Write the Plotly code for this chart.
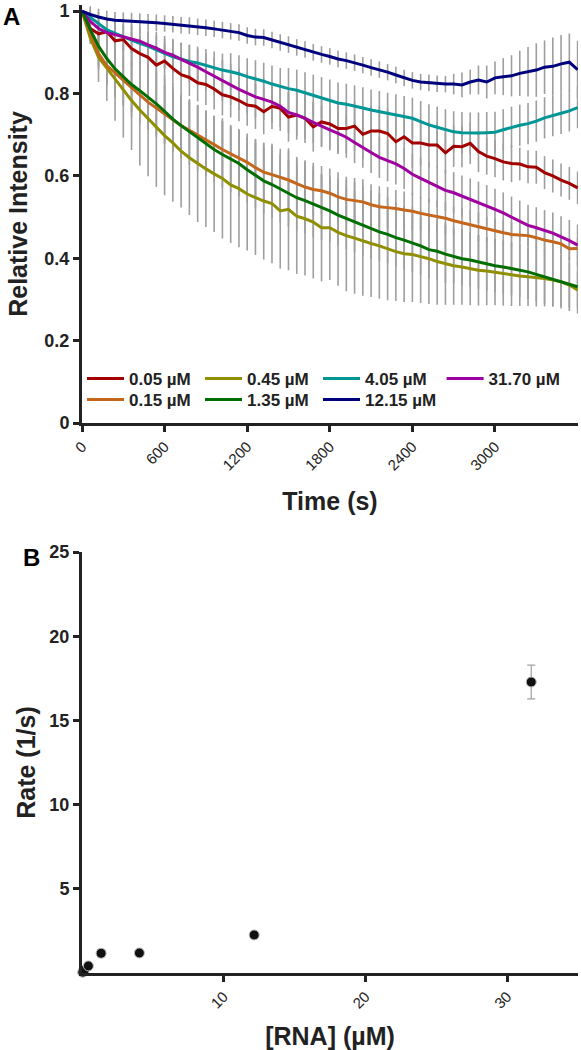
import plotly.graph_objects as go

# ---------------- Panel A data ----------------
time_s = [0, 60, 120, 180, 240, 300, 360, 420, 480, 540,
          600, 660, 720, 780, 840, 900, 960, 1020, 1080, 1140,
          1200, 1260, 1320, 1380, 1440, 1500, 1560, 1620, 1680, 1740,
          1800, 1860, 1920, 1980, 2040, 2100, 2160, 2220, 2280, 2340,
          2400, 2460, 2520, 2580, 2640, 2700, 2760, 2820, 2880, 2940,
          3000, 3060, 3120, 3180, 3240, 3300, 3360, 3420, 3480, 3540, 3600]

i_005 = [1.000, 0.958, 0.945, 0.950, 0.928, 0.931, 0.909, 0.897, 0.888, 0.869,
         0.879, 0.861, 0.846, 0.839, 0.826, 0.822, 0.811, 0.797, 0.792, 0.783,
         0.772, 0.769, 0.756, 0.769, 0.764, 0.743, 0.748, 0.740, 0.719, 0.731,
         0.726, 0.715, 0.715, 0.721, 0.701, 0.709, 0.709, 0.703, 0.683, 0.695,
         0.680, 0.680, 0.675, 0.675, 0.656, 0.672, 0.671, 0.679, 0.659, 0.648,
         0.642, 0.634, 0.630, 0.629, 0.622, 0.621, 0.608, 0.600, 0.590, 0.582, 0.571]
i_015 = [1.000, 0.945, 0.897, 0.868, 0.850, 0.833, 0.815, 0.797, 0.779, 0.764,
         0.750, 0.736, 0.722, 0.711, 0.699, 0.688, 0.676, 0.664, 0.654, 0.644,
         0.633, 0.620, 0.609, 0.603, 0.596, 0.590, 0.581, 0.573, 0.567, 0.564,
         0.558, 0.549, 0.543, 0.540, 0.537, 0.530, 0.525, 0.523, 0.521, 0.517,
         0.514, 0.509, 0.505, 0.500, 0.497, 0.491, 0.486, 0.481, 0.476, 0.471,
         0.467, 0.462, 0.458, 0.457, 0.455, 0.450, 0.444, 0.440, 0.435, 0.423, 0.424]
i_045 = [1.000, 0.935, 0.888, 0.862, 0.834, 0.808, 0.783, 0.760, 0.739, 0.718,
         0.698, 0.680, 0.660, 0.644, 0.630, 0.617, 0.605, 0.594, 0.578, 0.569,
         0.556, 0.548, 0.539, 0.533, 0.515, 0.519, 0.502, 0.496, 0.488, 0.474,
         0.474, 0.463, 0.455, 0.449, 0.442, 0.436, 0.430, 0.423, 0.416, 0.411,
         0.409, 0.404, 0.399, 0.392, 0.387, 0.382, 0.379, 0.375, 0.371, 0.369,
         0.366, 0.363, 0.359, 0.357, 0.355, 0.353, 0.351, 0.347, 0.343, 0.335, 0.323]
i_135 = [1.000, 0.955, 0.915, 0.885, 0.860, 0.840, 0.822, 0.807, 0.792, 0.775,
         0.757, 0.738, 0.722, 0.707, 0.693, 0.679, 0.664, 0.652, 0.641, 0.630,
         0.615, 0.601, 0.588, 0.579, 0.568, 0.558, 0.547, 0.540, 0.532, 0.524,
         0.515, 0.505, 0.497, 0.489, 0.481, 0.473, 0.464, 0.458, 0.450, 0.444,
         0.437, 0.430, 0.421, 0.417, 0.410, 0.404, 0.399, 0.396, 0.391, 0.386,
         0.382, 0.379, 0.375, 0.371, 0.367, 0.361, 0.355, 0.350, 0.343, 0.337, 0.331]
i_405 = [1.000, 0.985, 0.968, 0.955, 0.946, 0.937, 0.930, 0.922, 0.915, 0.906,
         0.898, 0.889, 0.884, 0.878, 0.874, 0.868, 0.862, 0.857, 0.853, 0.848,
         0.841, 0.836, 0.830, 0.823, 0.817, 0.812, 0.808, 0.802, 0.796, 0.790,
         0.784, 0.777, 0.774, 0.770, 0.765, 0.760, 0.756, 0.752, 0.748, 0.744,
         0.740, 0.732, 0.724, 0.718, 0.712, 0.707, 0.705, 0.704, 0.704, 0.705,
         0.706, 0.712, 0.718, 0.723, 0.727, 0.733, 0.741, 0.746, 0.752, 0.758, 0.766]
i_1215 = [1.000, 0.992, 0.986, 0.981, 0.978, 0.977, 0.976, 0.975, 0.973, 0.972,
          0.970, 0.968, 0.966, 0.965, 0.962, 0.960, 0.957, 0.954, 0.951, 0.948,
          0.941, 0.937, 0.936, 0.930, 0.924, 0.919, 0.912, 0.907, 0.900, 0.895,
          0.890, 0.884, 0.880, 0.875, 0.869, 0.863, 0.858, 0.852, 0.845, 0.838,
          0.832, 0.828, 0.826, 0.824, 0.823, 0.823, 0.821, 0.828, 0.833, 0.828,
          0.838, 0.841, 0.843, 0.849, 0.853, 0.857, 0.864, 0.866, 0.872, 0.876, 0.858]
i_3170 = [1.000, 0.975, 0.958, 0.948, 0.943, 0.938, 0.933, 0.927, 0.918, 0.910,
          0.900, 0.893, 0.883, 0.874, 0.864, 0.853, 0.842, 0.832, 0.822, 0.810,
          0.801, 0.792, 0.786, 0.779, 0.769, 0.754, 0.748, 0.740, 0.730, 0.720,
          0.712, 0.703, 0.694, 0.681, 0.670, 0.657, 0.645, 0.637, 0.629, 0.618,
          0.604, 0.594, 0.584, 0.574, 0.565, 0.559, 0.551, 0.544, 0.536, 0.528,
          0.519, 0.510, 0.500, 0.490, 0.480, 0.474, 0.467, 0.461, 0.452, 0.443, 0.432]

# error (SD) estimates
e_005 = [0, 0.02, 0.03, 0.03, 0.03, 0.03, 0.04, 0.04, 0.04, 0.04,
         0.04, 0.04, 0.045, 0.045, 0.045, 0.05, 0.05, 0.05, 0.05, 0.05,
         0.05, 0.055, 0.055, 0.055, 0.055, 0.06, 0.06, 0.06, 0.06, 0.06,
         0.06, 0.06, 0.06, 0.06, 0.06, 0.06, 0.06, 0.06, 0.06, 0.06,
         0.06, 0.055, 0.055, 0.055, 0.05, 0.05, 0.05, 0.05, 0.05, 0.045,
         0.045, 0.045, 0.045, 0.04, 0.04, 0.04, 0.04, 0.04, 0.04, 0.04, 0.04]
e_015 = [0, 0.02, 0.04, 0.05, 0.05, 0.06, 0.06, 0.06, 0.065, 0.065,
         0.07, 0.07, 0.07, 0.07, 0.07, 0.07, 0.07, 0.07, 0.07, 0.07,
         0.07, 0.07, 0.07, 0.07, 0.07, 0.07, 0.065, 0.065, 0.065, 0.06,
         0.06, 0.06, 0.055, 0.055, 0.055, 0.05, 0.05, 0.05, 0.045, 0.045,
         0.045, 0.04, 0.04, 0.04, 0.04, 0.035, 0.035, 0.035, 0.035, 0.03,
         0.03, 0.03, 0.03, 0.03, 0.025, 0.025, 0.025, 0.025, 0.025, 0.025, 0.025]
e_045 = [0, 0.015, 0.06, 0.08, 0.10, 0.115, 0.12, 0.135, 0.14, 0.145,
         0.145, 0.143, 0.137, 0.139, 0.142, 0.141, 0.141, 0.146, 0.141, 0.142,
         0.137, 0.14, 0.142, 0.145, 0.14, 0.148, 0.14, 0.138, 0.137, 0.13,
         0.127, 0.13, 0.135, 0.135, 0.133, 0.13, 0.128, 0.125, 0.12, 0.117,
         0.115, 0.113, 0.11, 0.105, 0.10, 0.095, 0.092, 0.089, 0.086, 0.083,
         0.08, 0.078, 0.075, 0.073, 0.071, 0.07, 0.068, 0.065, 0.06, 0.055, 0.045]
e_135 = [0, 0.02, 0.05, 0.06, 0.07, 0.07, 0.08, 0.08, 0.08, 0.08,
         0.08, 0.08, 0.08, 0.08, 0.08, 0.08, 0.08, 0.08, 0.08, 0.08,
         0.08, 0.08, 0.08, 0.08, 0.08, 0.08, 0.08, 0.08, 0.08, 0.08,
         0.075, 0.075, 0.075, 0.075, 0.075, 0.075, 0.07, 0.07, 0.07, 0.07,
         0.07, 0.07, 0.07, 0.07, 0.07, 0.065, 0.065, 0.065, 0.065, 0.065,
         0.065, 0.065, 0.065, 0.065, 0.065, 0.065, 0.065, 0.065, 0.065, 0.065, 0.065]
e_405 = [0, 0.02, 0.03, 0.03, 0.03, 0.03, 0.03, 0.035, 0.035, 0.035,
         0.035, 0.04, 0.04, 0.04, 0.04, 0.04, 0.04, 0.04, 0.045, 0.045,
         0.045, 0.045, 0.045, 0.045, 0.045, 0.05, 0.05, 0.05, 0.05, 0.05,
         0.05, 0.05, 0.05, 0.05, 0.05, 0.05, 0.05, 0.05, 0.05, 0.05,
         0.05, 0.05, 0.05, 0.05, 0.05, 0.05, 0.05, 0.05, 0.05, 0.05,
         0.05, 0.05, 0.05, 0.05, 0.05, 0.05, 0.05, 0.05, 0.05, 0.05, 0.05]
e_1215 = [0, 0.02, 0.02, 0.02, 0.02, 0.02, 0.02, 0.02, 0.02, 0.02,
          0.02, 0.02, 0.02, 0.02, 0.02, 0.02, 0.02, 0.02, 0.02, 0.02,
          0.02, 0.02, 0.02, 0.02, 0.02, 0.02, 0.02, 0.02, 0.02, 0.02,
          0.02, 0.02, 0.02, 0.02, 0.02, 0.02, 0.02, 0.02, 0.02, 0.02,
          0.02, 0.02, 0.02, 0.02, 0.02, 0.025, 0.03, 0.03, 0.035, 0.04,
          0.04, 0.045, 0.05, 0.055, 0.06, 0.065, 0.065, 0.07, 0.07, 0.07, 0.07]
e_3170 = [0, 0.02, 0.03, 0.03, 0.03, 0.03, 0.035, 0.035, 0.035, 0.04,
          0.04, 0.04, 0.04, 0.045, 0.045, 0.045, 0.045, 0.05, 0.05, 0.05,
          0.05, 0.05, 0.05, 0.05, 0.05, 0.05, 0.05, 0.05, 0.05, 0.05,
          0.05, 0.05, 0.05, 0.05, 0.05, 0.05, 0.05, 0.05, 0.05, 0.05,
          0.05, 0.05, 0.05, 0.05, 0.05, 0.05, 0.05, 0.05, 0.05, 0.05,
          0.05, 0.05, 0.05, 0.05, 0.05, 0.05, 0.05, 0.05, 0.05, 0.05, 0.05]

series_labels = ["0.05 µM", "0.15 µM", "0.45 µM", "1.35 µM", "4.05 µM", "12.15 µM", "31.70 µM"]
series_values = [i_005, i_015, i_045, i_135, i_405, i_1215, i_3170]
series_errors = [e_005, e_015, e_045, e_135, e_405, e_1215, e_3170]
series_colors = ["#a30000", "#c4661c", "#8f8f00", "#006e00", "#009696", "#00007f", "#a000a0"]
legend_groups = [([0, 2, 4], "legend"), ([6], "legend3"), ([1, 3, 5], "legend2")]

# ---------------- Panel B data ----------------
rna_uM = [0.05, 0.15, 0.45, 1.35, 4.05, 12.15, 31.70]
rate = [0.05, 0.15, 0.42, 1.17, 1.19, 2.26, 17.28]
rate_err = [0.02, 0.03, 0.08, 0.22, 0.1, 0.12, 1.0]

FONT = "Liberation Sans, Arial, Helvetica, sans-serif"
INK = "#222222"

fig = go.Figure()

# error bars first (behind all lines)
for vals, errs in zip(series_values, series_errors):
    fig.add_trace(go.Scatter(
        x=time_s, y=vals, mode="markers",
        marker=dict(size=2, color="rgba(0,0,0,0)"),
        error_y=dict(type="data", array=errs, visible=True, color="#9e9e9e",
                     thickness=1.6, width=0),
        showlegend=False, hoverinfo="skip", xaxis="x", yaxis="y"))

for members, lg in legend_groups:
    for k in members:
        fig.add_trace(go.Scatter(
            x=time_s, y=series_values[k], mode="lines", name=series_labels[k],
            line=dict(color=series_colors[k], width=3), legend=lg,
            xaxis="x", yaxis="y"))

fig.add_trace(go.Scatter(
    x=rna_uM, y=rate, mode="markers",
    marker=dict(size=10, color="#111111", line=dict(color="#bbbbbb", width=1)),
    error_y=dict(type="data", array=rate_err, visible=True, color="#a0a0a0",
                 thickness=1.2, width=4),
    showlegend=False, cliponaxis=False, xaxis="x2", yaxis="y2"))

axis_common = dict(showline=True, linewidth=3, linecolor=INK, ticks="outside",
                   ticklen=6, tickwidth=3, tickcolor=INK, showgrid=False,
                   zeroline=False, mirror=False, automargin=False)

legend_common = dict(orientation="h", xanchor="left", yanchor="middle",
                     entrywidth=66, entrywidthmode="pixels", itemwidth=37,
                     font=dict(size=17, weight="bold"), bgcolor="rgba(0,0,0,0)")

fig.update_layout(
    width=581, height=1050,
    margin=dict(l=82, r=3, t=5, b=45, autoexpand=False),
    paper_bgcolor="white", plot_bgcolor="white",
    font=dict(family=FONT, color=INK),
    xaxis=dict(domain=[0, 1], anchor="y", range=[0, 3603],
               tickvals=[0, 600, 1200, 1800, 2400, 3000], tickangle=-45,
               tickfont=dict(size=15),
               title=dict(text="Time (s)", font=dict(size=25, weight="bold"), standoff=20),
               **axis_common),
    yaxis=dict(domain=[0.582, 1.0], anchor="x", range=[0, 1.015],
               tickvals=[0, 0.2, 0.4, 0.6, 0.8, 1.0],
               ticktext=["0", "0.2", "0.4", "0.6", "0.8", "1"],
               tickfont=dict(size=18, weight="bold"),
               title=dict(text="Relative Intensity", font=dict(size=25, weight="bold"), standoff=10),
               **axis_common),
    xaxis2=dict(domain=[0, 1], anchor="y2", range=[0, 35],
                tickvals=[10, 20, 30], tickangle=-45,
                tickfont=dict(size=15),
                title=dict(text="[RNA] (µM)", font=dict(size=25, weight="bold"), standoff=18),
                **axis_common),
    yaxis2=dict(domain=[0.032, 0.453], anchor="x2", range=[0, 25],
                tickvals=[5, 10, 15, 20, 25],
                tickfont=dict(size=18, weight="bold"),
                title=dict(text="Rate (1/s)", font=dict(size=25, weight="bold"), standoff=7),
                **axis_common),
    legend=dict(x=0, y=0.626, **legend_common),
    legend3=dict(x=0.725, y=0.626, **legend_common),
    legend2=dict(x=0, y=0.605, **legend_common),
    annotations=[
        dict(text="A", x=-0.163, y=0.9885, xref="paper", yref="paper",
             xanchor="left", yanchor="middle", showarrow=False,
             font=dict(size=24, weight="bold", color="#000")),
        dict(text="B", x=-0.1028, y=0.448, xref="paper", yref="paper",
             xanchor="center", yanchor="middle", showarrow=False,
             font=dict(size=24, weight="bold", color="#000")),
    ],
)

# drop the browser's default 8px page margin so the 581x1050 figure fills the window
fig.write_html("out.html", config={"displayModeBar": False},
               post_script="document.body.style.margin='0';")
